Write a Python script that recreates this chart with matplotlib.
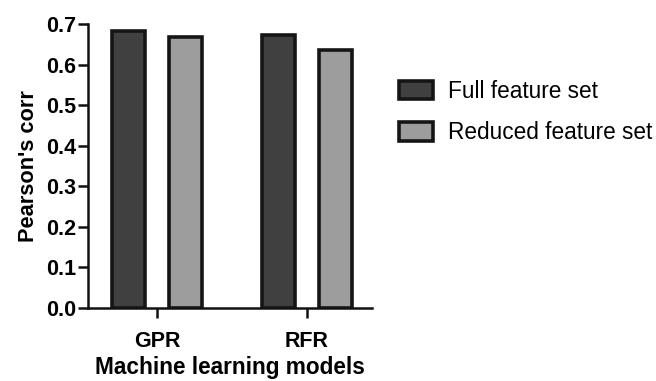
import numpy as np
import matplotlib.pyplot as plt

plt.rcParams['font.family'] = ['Liberation Sans', 'DejaVu Sans']

# Pearson correlation per model and feature set
models = ['GPR', 'RFR']
full_corr = [0.683, 0.673]
full_err = [0.003, 0.003]
reduced_corr = [0.668, 0.636]
reduced_err = [0.003, 0.003]

x = np.arange(len(models))
width = 0.225
offset = 0.19

fig = plt.figure(figsize=(6.56, 3.81), dpi=100)
ax = fig.add_axes([0.134, 0.192, 0.433, 0.745])

edge = '#151515'
ax.bar(x - offset, full_corr, width, yerr=full_err, color='#404040',
       edgecolor=edge, linewidth=2.6, label='Full feature set',
       error_kw=dict(ecolor=edge, elinewidth=1.5, capsize=0), zorder=3)
ax.bar(x + offset, reduced_corr, width, yerr=reduced_err, color='#9d9d9d',
       edgecolor=edge, linewidth=2.6, label='Reduced feature set',
       error_kw=dict(ecolor=edge, elinewidth=1.5, capsize=0), zorder=3)

ax.set_xlim(-0.46, 1.433)
ax.set_ylim(0, 0.7)
yt = np.arange(0, 0.71, 0.1)
ax.set_yticks(yt)
ax.set_yticklabels(['%.1f' % v for v in yt], fontsize=15.5, fontweight='bold')
ax.set_xticks(x)
ax.set_xticklabels(models, fontsize=15.5, fontweight='bold')

# Prism-style axes
for side in ['top', 'right']:
    ax.spines[side].set_visible(False)
for side in ['left', 'bottom']:
    ax.spines[side].set_linewidth(1.8)
    ax.spines[side].set_color('#111111')
ax.tick_params(axis='both', width=1.8, length=7.5, color='#111111')
ax.tick_params(axis='y', pad=1)
ax.tick_params(axis='x', pad=9)

ax.set_ylabel("Pearson's corr", fontsize=15.7, fontweight='bold', labelpad=5)
ax.set_xlabel('Machine learning models', fontsize=16.3, fontweight='bold',
              labelpad=3)

ax.legend(loc='center left', bbox_to_anchor=(1.022, 0.689), frameon=False,
          fontsize=16.3, handlelength=1.5, handleheight=0.85,
          labelspacing=0.8, handletextpad=0.7)

fig.savefig('out.png', dpi=100)
